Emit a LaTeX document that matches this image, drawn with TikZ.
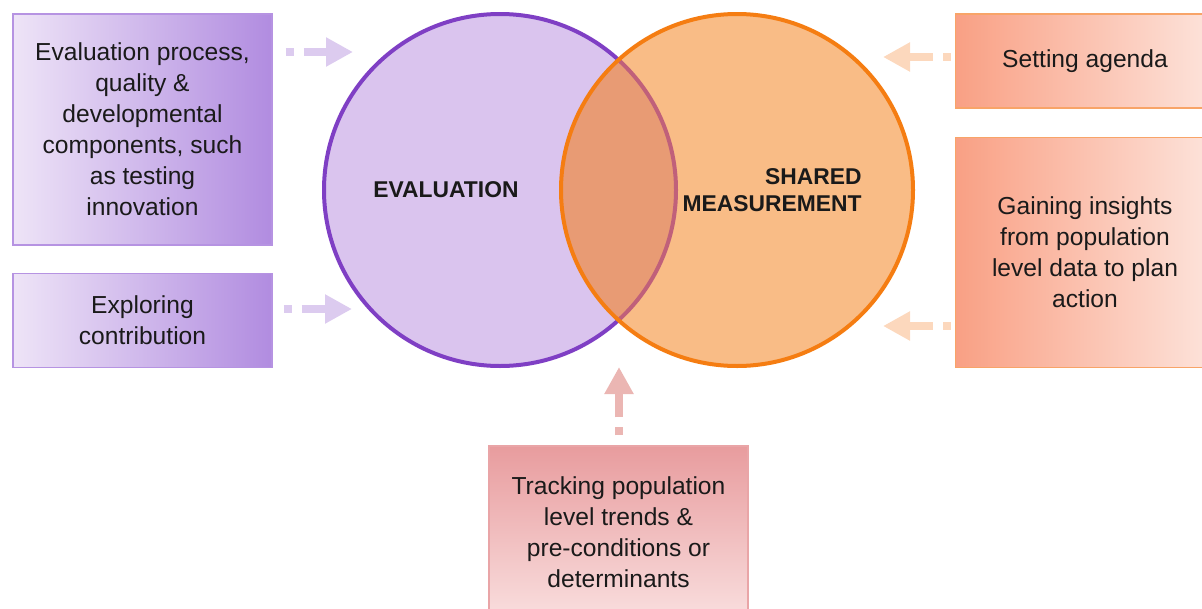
\documentclass[tikz,border=0pt]{standalone}
\usepackage{fontspec}
\setmainfont{Liberation Sans}
\usetikzlibrary{positioning,calc,arrows.meta}

\definecolor{txtdark}{HTML}{1A1A1A}
\definecolor{evalfill}{HTML}{DAC4EE}
\definecolor{evalline}{HTML}{7F3FC4}
\definecolor{measfill}{HTML}{F9BC86}
\definecolor{measline}{HTML}{F57D12}
\definecolor{lensfill}{HTML}{E89B74}
\definecolor{lensline}{HTML}{C0607A}
\definecolor{purpleft}{HTML}{EEE4F7}
\definecolor{purpright}{HTML}{B18CE0}
\definecolor{purpedge}{HTML}{B693E2}
\definecolor{orngleft}{HTML}{F9A084}
\definecolor{orngright}{HTML}{FDE4DC}
\definecolor{orngedge}{HTML}{F8A468}
\definecolor{pinktop}{HTML}{E89C9E}
\definecolor{pinkbot}{HTML}{F9DEDE}
\definecolor{pinkedge}{HTML}{E9A5A7}
\definecolor{purparrow}{HTML}{DCCBEF}
\definecolor{orngarrow}{HTML}{FCD8BD}
\definecolor{pinkarrow}{HTML}{EBB6B3}

\begin{document}
\begin{tikzpicture}[
    boxtext/.style={font=\fontsize{14}{17.6}\selectfont, text=txtdark, align=center, inner sep=0pt, line width=0.03cm, minimum width=5.18cm},
    purpbox/.style={boxtext, draw=purpedge, left color=purpleft, right color=purpright},
    orngbox/.style={boxtext, draw=orngedge, left color=orngleft, right color=orngright},
    pinkbox/.style={boxtext, draw=pinkedge, top color=pinktop, bottom color=pinkbot},
    fatarrow/.style={line width=0.15cm, dash pattern=on 0.16cm off 0.2cm on 3cm, -{Triangle[length=0.54cm,width=0.55cm]}},
    circlabel/.style={font=\bfseries\fontsize{13}{15.6}\selectfont, text=txtdark, inner sep=0pt}
]
    \useasboundingbox (0,0) rectangle (24.04,-12.18);

    % circles
    \node[circle, minimum size=7.04cm, inner sep=0pt] (evalcirc) at (10.00,-3.80) {};
    \node[circle, minimum size=7.04cm, inner sep=0pt] (meascirc) at (14.74,-3.80) {};

    \fill[evalfill] (evalcirc.center) circle (3.52);
    \draw[evalline, line width=0.08cm] (evalcirc.center) circle (3.52);
    \fill[measfill] (meascirc.center) circle (3.52);
    \begin{scope}
        \clip (evalcirc.center) circle (3.52);
        \fill[lensfill] (meascirc.center) circle (3.52);
    \end{scope}
    \begin{scope}
        \clip (meascirc.center) circle (3.52);
        \draw[lensline, line width=0.08cm] (evalcirc.center) circle (3.52);
    \end{scope}
    \draw[measline, line width=0.08cm] (meascirc.center) circle (3.52);

    \node[circlabel] (evallabel) at (8.92,-3.80) {EVALUATION};
    \node[circlabel, anchor=east, align=right] (measlabel) at (17.24,-3.80) {SHARED\\MEASUREMENT};

    % boxes
    \node[purpbox, minimum height=4.62cm] (evalproc) at (2.85,-2.59)
        {Evaluation process,\\quality \&\\developmental\\components, such\\as testing\\innovation};
    \node[purpbox, minimum height=1.88cm, below=0.54cm of evalproc] (explore)
        {Exploring\\contribution};
    \node[orngbox, minimum height=1.88cm] (agenda) at (21.70,-1.22) {Setting agenda};
    \node[orngbox, minimum height=4.60cm, below=0.56cm of agenda] (insights)
        {Gaining insights\\from population\\level data to plan\\action};
    \node[pinkbox, minimum height=3.44cm] (tracking) at (12.37,-10.64)
        {Tracking population\\level trends \&\\pre-conditions or\\determinants};

    % arrows
    \coordinate (evaltip1) at (7.06,-1.04);
    \coordinate (evaltip2) at (7.04,-6.18);
    \coordinate (meastip1) at (17.66,-1.14);
    \coordinate (meastip2) at (17.66,-6.52);
    \coordinate (lenstip) at (12.38,-7.34);

    \draw[fatarrow, purparrow, shorten <=0.26cm] (evalproc.east |- evaltip1) -- (evaltip1);
    \draw[fatarrow, purparrow, shorten <=0.22cm] (explore.east |- evaltip2) -- (evaltip2);
    \draw[fatarrow, orngarrow, shorten <=0.08cm] (agenda.west |- meastip1) -- (meastip1);
    \draw[fatarrow, orngarrow, shorten <=0.08cm] (insights.west |- meastip2) -- (meastip2);
    \draw[fatarrow, pinkarrow, shorten <=0.20cm] (tracking.north -| lenstip) -- (lenstip);
\end{tikzpicture}
\end{document}
